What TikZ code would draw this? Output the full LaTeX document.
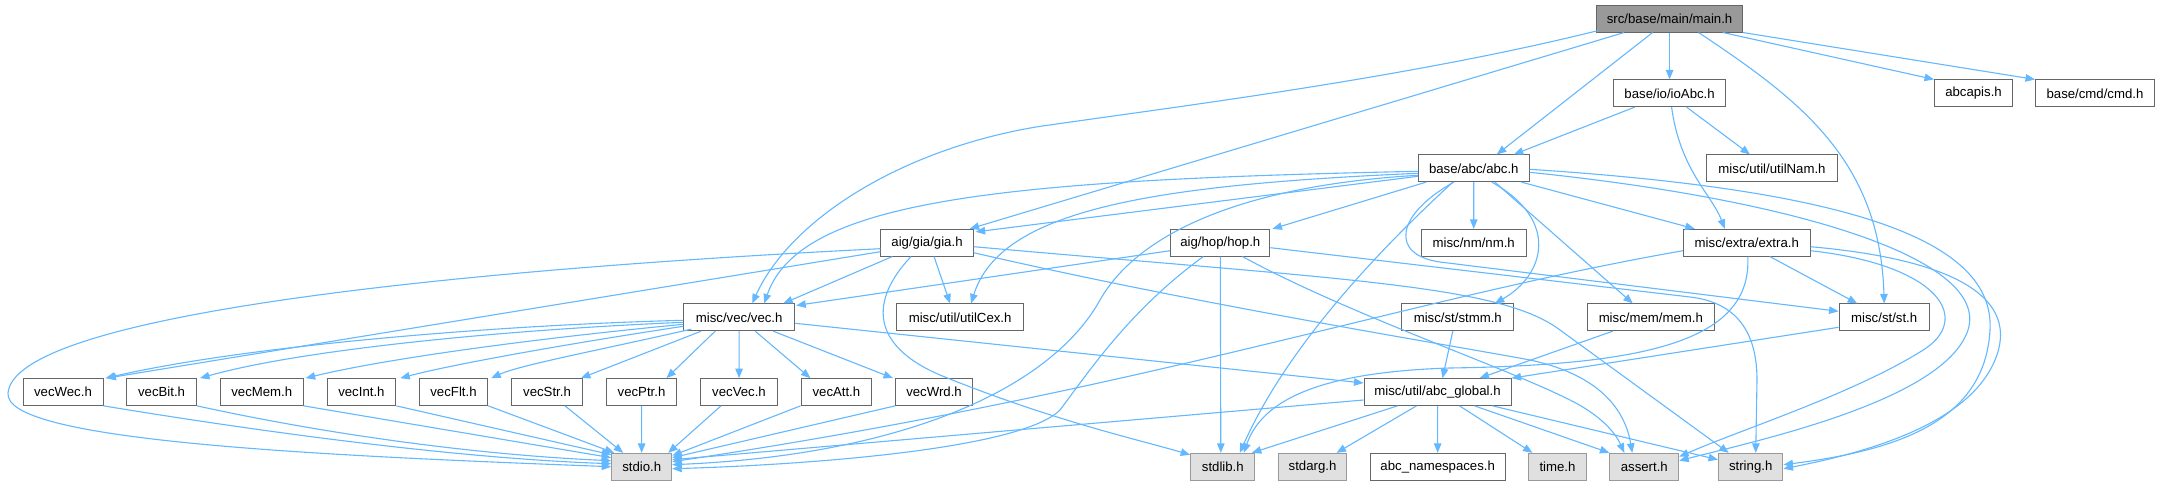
\documentclass[tikz,border=0pt]{standalone}
\usepackage{fontspec}
\setmainfont{Liberation Sans}
\usetikzlibrary{arrows.meta,calc}
\definecolor{edgec}{HTML}{63B8FF}
\definecolor{bord}{HTML}{666666}
\definecolor{sysfill}{HTML}{E0E0E0}
\definecolor{sysbord}{HTML}{999999}
\definecolor{mainfill}{HTML}{999999}
\begin{document}
\begin{tikzpicture}[x=1pt,y=-1pt,
  box/.style={draw=bord,fill=white,line width=1pt,minimum height=26.7pt,inner sep=0pt,font=\fontsize{13.2}{15}\selectfont},
  sys/.style={box,draw=sysbord,fill=sysfill},
  root/.style={box,fill=mainfill},
  edge/.style={draw=edgec,line width=1.1pt,-{Triangle[length=9.5pt,width=7.5pt]}}]
\fill[white] (0,0) rectangle (2160,485);
\useasboundingbox (0,0) rectangle (2160,485);
% rank 0
\node[root,minimum width=146pt] (main) at (1669.6,18.7) {src/base/main/main.h};
% rank 1
\node[box,minimum width=112pt] (io) at (1669.6,93.3) {base/io/ioAbc.h};
\node[box,minimum width=78pt] (abcapis) at (1973.5,93.3) {abcapis.h};
\node[box,minimum width=119pt] (cmd) at (2095,93.3) {base/cmd/cmd.h};
% rank 2
\node[box,minimum width=110.5pt] (abc) at (1473.8,168.3) {base/abc/abc.h};
\node[box,minimum width=131pt] (utilnam) at (1772,168.3) {misc/util/utilNam.h};
% rank 3
\node[box,minimum width=92.3pt] (gia) at (927,242.7) {aig/gia/gia.h};
\node[box,minimum width=99.3pt] (hop) at (1220.3,242.7) {aig/hop/hop.h};
\node[box,minimum width=104.7pt] (nm) at (1473.7,242.7) {misc/nm/nm.h};
\node[box,minimum width=126.5pt] (extra) at (1746.8,242.7) {misc/extra/extra.h};
% rank 4
\node[box,minimum width=111pt] (vec) at (739.2,317.3) {misc/vec/vec.h};
\node[box,minimum width=127.2pt] (utilcex) at (960.1,317.3) {misc/util/utilCex.h};
\node[box,minimum width=112.3pt] (stmm) at (1457.8,317.3) {misc/st/stmm.h};
\node[box,minimum width=126.4pt] (mem) at (1650.8,317.3) {misc/mem/mem.h};
\node[box,minimum width=90.3pt] (st) at (1884.2,317.3) {misc/st/st.h};
% rank 5
\node[box,minimum width=80pt] (vecwec) at (63,392) {vecWec.h};
\node[box,minimum width=69.8pt] (vecbit) at (161.6,392) {vecBit.h};
\node[box,minimum width=82.7pt] (vecmem) at (261.8,392) {vecMem.h};
\node[box,minimum width=68.8pt] (vecint) at (361.4,392) {vecInt.h};
\node[box,minimum width=68.4pt] (vecflt) at (453.5,392) {vecFlt.h};
\node[box,minimum width=70.7pt] (vecstr) at (547,392) {vecStr.h};
\node[box,minimum width=70.8pt] (vecptr) at (641.5,392) {vecPtr.h};
\node[box,minimum width=76.2pt] (vecvec) at (739,392) {vecVec.h};
\node[box,minimum width=70.7pt] (vecatt) at (836.4,392) {vecAtt.h};
\node[box,minimum width=76.7pt] (vecwrd) at (934,392) {vecWrd.h};
\node[box,minimum width=147pt] (abcg) at (1437.5,392) {misc/util/abc\_global.h};
% rank 6
\node[sys,minimum width=60pt] (stdio) at (641.7,466.7) {stdio.h};
\node[sys,minimum width=64.3pt] (stdlib) at (1222.8,466.7) {stdlib.h};
\node[sys,minimum width=68.3pt] (stdarg) at (1312.5,466.7) {stdarg.h};
\node[box,minimum width=135.3pt] (nspace) at (1437.7,466.7) {abc\_namespaces.h};
\node[sys,minimum width=58.3pt] (time) at (1557.5,466.7) {time.h};
\node[sys,minimum width=68.8pt] (assert) at (1644.3,466.7) {assert.h};
\node[sys,minimum width=64.5pt] (string) at (1750.7,466.7) {string.h};

% ---- main.h
\draw[edge] ($(main.south west)+(2,-2)$) .. controls (1400,80) and (1150,110) .. (1036,127) .. controls (900,150) and (790,220) .. ($(vec.north)+(13,0)$);
\draw[edge] ($(main.south west)+(28,0)$) -- ($(gia.north east)+(-4,0)$);
\draw[edge] ($(main.south)+(-17,0)$) -- ($(abc.north)+(23,0)$);
\draw[edge] (main) -- (io);
\draw[edge] ($(main.south)+(29,0)$) .. controls (1800,100) and (1880,160) .. (st.north);
\draw[edge] ($(main.south east)+(-20,0)$) -- (abcapis.north west);
\draw[edge] (main.south east) -- (cmd.north west);
% ---- ioAbc.h
\draw[edge] ($(io.south)+(-35,0)$) -- ($(abc.north)+(40,0)$);
\draw[edge] ($(io.south)+(2,0)$) .. controls (1680,170) and (1712,195) .. ($(extra.north)+(-22,0)$);
\draw[edge] ($(io.south)+(17,0)$) -- ($(utilnam.north)+(-22,0)$);
% ---- abc.h
\draw[edge] ($(abc.west)+(0,8)$) -- ($(gia.north east)+(2,3)$);
\draw[edge] ($(abc.west)+(0,3)$) .. controls (1000,180) and (800,200) .. ($(vec.north)+(25,0)$);
\draw[edge] ($(abc.west)+(0,5)$) .. controls (1150,185) and (1000,210) .. ($(utilcex.north)+(11,0)$);
\draw[edge] ($(abc.west)+(0,7)$) .. controls (1250,185) and (1140,230) .. (1100,300) .. controls (1050,390) and (900,455) .. ($(stdio.east)+(0,-2)$);
\draw[edge] ($(abc.south west)+(8,0)$) -- ($(hop.north east)+(2,0)$);
\draw[edge] ($(abc.south)+(-21,0)$) .. controls (1390,240) and (1290,340) .. ($(stdlib.north)+(17,0)$);
\draw[edge] (abc) -- (nm);
\draw[edge] ($(abc.south)+(18,0)$) .. controls (1560,220) and (1545,275) .. ($(stmm.north)+(37,0)$);
\draw[edge] ($(abc.south)+(21,0)$) -- ($(mem.north)+(-18,0)$);
\draw[edge] ($(abc.south east)+(-8,0)$) -- ($(extra.north)+(-52,0)$);
\draw[edge] ($(abc.south)+(-20,0)$) .. controls (1395,215) and (1390,255) .. (1440,262) -- ($(st.west)+(0,-6)$);
\draw[edge] ($(abc.east)+(0,4)$) .. controls (1800,200) and (1990,260) .. (1968,330) .. controls (1945,400) and (1760,440) .. ($(assert.east)+(0,-6)$);
\draw[edge] ($(abc.east)+(0,1)$) .. controls (1850,190) and (1995,240) .. (1990,330) .. controls (1985,420) and (1900,450) .. ($(string.east)+(0,-2)$);
% ---- extra.h
\draw[edge] ($(extra.west)+(0,8)$) .. controls (1400,300) and (1150,390) .. ($(stdio.east)+(0,-5)$);
\draw[edge] ($(extra.south)+(1,0)$) .. controls (1752,340) and (1650,365) .. (1450,368) .. controls (1320,372) and (1262,400) .. ($(stdlib.north)+(21,0)$);
\draw[edge] ($(extra.south)+(23,0)$) -- ($(st.north)+(-27,0)$);
\draw[edge] ($(extra.east)+(0,8)$) .. controls (1940,265) and (1975,320) .. (1920,352) .. controls (1850,395) and (1740,430) .. ($(assert.east)+(0,-10)$);
\draw[edge] ($(extra.east)+(0,4)$) .. controls (1960,260) and (2020,300) .. (1995,360) .. controls (1970,420) and (1880,450) .. ($(string.east)+(0,2)$);
% ---- st, stmm, mem
\draw[edge] ($(st.west)+(0,10)$) -- (abcg.north east);
\draw[edge] ($(stmm.south)+(-5,0)$) -- ($(abcg.north)+(5,0)$);
\draw[edge] ($(mem.south)+(-38,0)$) -- ($(abcg.north)+(42,0)$);
% ---- gia.h
\draw[edge] ($(gia.west)+(0,6)$) .. controls (450,270) and (15,315) .. (8,393) .. controls (3,440) and (300,455) .. (stdio.west);
\draw[edge] ($(gia.west)+(0,9)$) -- ($(vecwec.north east)+(3,0)$);
\draw[edge] ($(gia.south west)+(12,0)$) -- ($(vec.north east)+(-12,0)$);
\draw[edge] ($(gia.south)+(7,0)$) -- ($(utilcex.north)+(-10,0)$);
\draw[edge] ($(gia.south)+(-16,0)$) .. controls (870,300) and (870,345) .. (940,375) .. controls (1050,420) and (1140,440) .. ($(stdlib.north west)+(0,2)$);
\draw[edge] ($(gia.east)+(0,4)$) .. controls (1350,280) and (1500,285) .. (1560,330) -- ($(string.north)+(-22,0)$);
\draw[edge] ($(gia.east)+(0,10)$) .. controls (1200,305) and (1450,345) .. (1530,360) .. controls (1600,375) and (1625,410) .. ($(assert.north)+(-12,0)$);
% ---- hop.h
\draw[edge] ($(hop.west)+(0,8)$) -- ($(vec.north east)+(1,2)$);
\draw[edge] ($(hop.south)+(-17,0)$) .. controls (1130,310) and (1090,370) .. (1060,410) .. controls (1020,450) and (800,465) .. ($(stdio.east)+(0,2)$);
\draw[edge] (hop.south) -- ($(stdlib.north)+(-2,0)$);
\draw[edge] ($(hop.east)+(0,5)$) -- (1690,297) .. controls (1725,301) and (1757,320) .. (1757,380) -- ($(string.north)+(5,0)$);
\draw[edge] ($(hop.south east)+(-28,0)$) .. controls (1350,315) and (1500,365) .. (1570,400) .. controls (1600,415) and (1615,432) .. ($(assert.north)+(-20,0)$);
% ---- vec.h
\draw[edge] ($(vec.west)+(0,3)$) .. controls (500,325) and (250,345) .. ($(vecwec.north east)+(2,0)$);
\draw[edge] ($(vec.west)+(0,5)$) .. controls (500,330) and (300,350) .. ($(vecbit.north east)+(3,0)$);
\draw[edge] ($(vec.west)+(0,7)$) .. controls (520,340) and (380,360) .. ($(vecmem.north east)+(2,0)$);
\draw[edge] ($(vec.west)+(0,9)$) .. controls (560,345) and (450,365) .. ($(vecint.north east)+(4,0)$);
\draw[edge] ($(vec.south west)+(8,-2)$) .. controls (600,350) and (520,365) .. ($(vecflt.north east)+(3,0)$);
\draw[edge] ($(vec.south west)+(18,0)$) -- ($(vecstr.north east)+(-2,0)$);
\draw[edge] ($(vec.south west)+(32,0)$) -- ($(vecptr.north)+(25,0)$);
\draw[edge] (vec) -- (vecvec);
\draw[edge] ($(vec.south)+(16,0)$) -- ($(vecatt.north)+(-26,0)$);
\draw[edge] ($(vec.south)+(34,0)$) -- ($(vecwrd.north)+(-41,0)$);
\draw[edge] ($(vec.east)+(0,6)$) -- ($(abcg.west)+(0,-9)$);
% ---- vec* -> stdio
\draw[edge] (vecwec.south east) .. controls (250,430) and (450,458) .. ($(stdio.west)+(0,-3)$);
\draw[edge] (vecbit.south east) .. controls (330,435) and (480,455) .. ($(stdio.west)+(0,-6)$);
\draw[edge] (vecmem.south east) -- ($(stdio.west)+(0,-9)$);
\draw[edge] (vecint.south east) -- ($(stdio.west)+(0,-12)$);
\draw[edge] (vecflt.south east) -- ($(stdio.north west)+(3,0)$);
\draw[edge] ($(vecstr.south)+(18,0)$) -- ($(stdio.north west)+(12,0)$);
\draw[edge] (vecptr) -- (stdio);
\draw[edge] ($(vecvec.south)+(-18,0)$) -- ($(stdio.north east)+(-4,0)$);
\draw[edge] (vecatt.south west) -- ($(stdio.east)+(0,-11)$);
\draw[edge] (vecwrd.south west) -- ($(stdio.east)+(0,-9)$);
% ---- abc_global.h
\draw[edge] ($(abcg.west)+(0,8)$) -- ($(stdio.east)+(0,-7)$);
\draw[edge] ($(abcg.south west)+(34,0)$) -- ($(stdlib.north)+(29,0)$);
\draw[edge] ($(abcg.south west)+(53,0)$) -- ($(stdarg.north)+(24,0)$);
\draw[edge] (abcg) -- (nspace);
\draw[edge] ($(abcg.south)+(22,0)$) -- ($(time.north)+(-25,0)$);
\draw[edge] ($(abcg.south)+(37,0)$) -- (assert.north west);
\draw[edge] ($(abcg.south)+(55,0)$) -- ($(string.west)+(0,-7)$);
\end{tikzpicture}
\end{document}
